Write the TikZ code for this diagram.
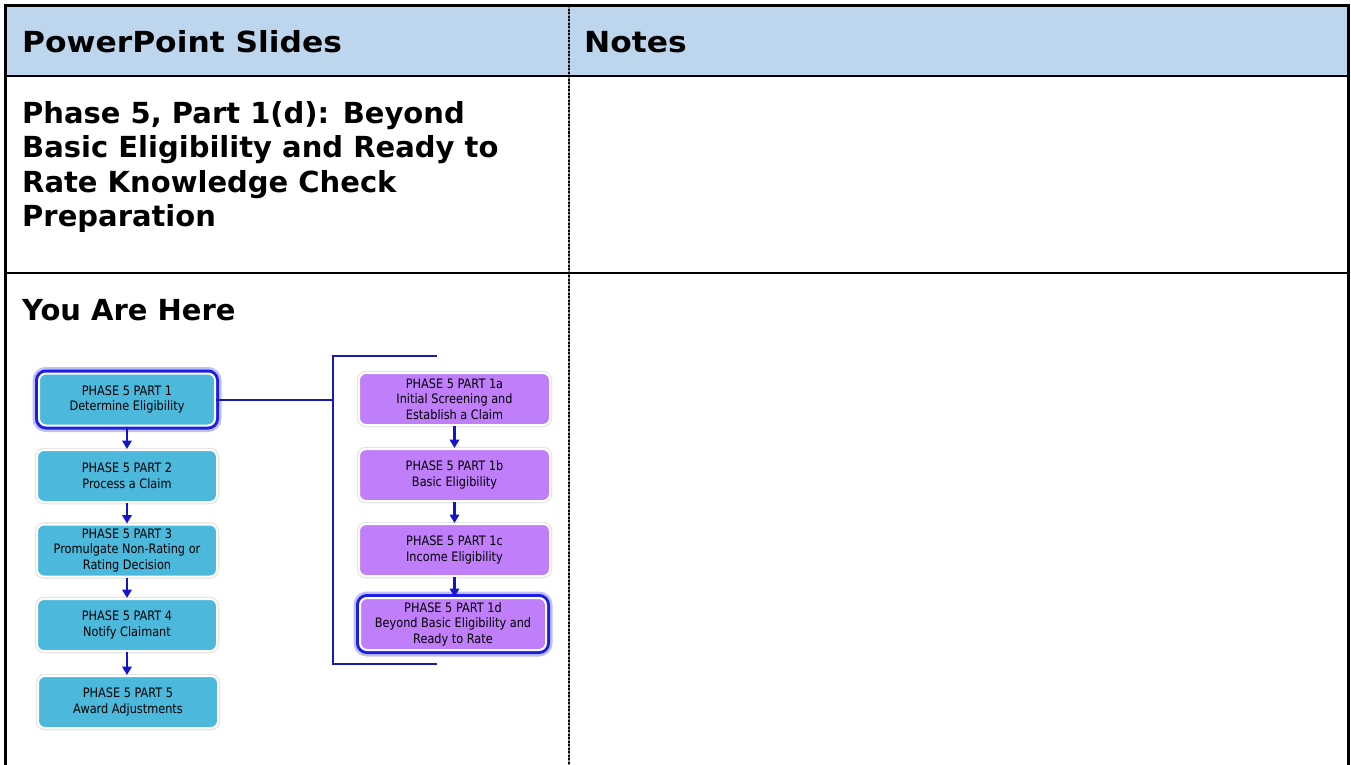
\documentclass[tikz,border=0pt]{standalone}
\usepackage{fontspec}
\setmainfont{DejaVu Sans}
\newfontfamily\hdrfont[FakeStretch=1.08]{DejaVu Sans}
\newfontfamily\boxfont[FakeStretch=0.87]{DejaVu Sans}
\usetikzlibrary{arrows.meta,shadows}
\definecolor{hdrblue}{HTML}{BDD6EE}
\definecolor{cyanbox}{RGB}{75,184,220}
\definecolor{purplebox}{RGB}{192,126,250}
\definecolor{arrowblue}{RGB}{20,20,205}
\definecolor{glowblue}{RGB}{30,30,225}
\definecolor{brackblue}{RGB}{25,25,180}
\begin{document}
\begin{tikzpicture}[x=1pt,y=-1pt,
  tblline/.style={line width=2.6pt, black},
  bigtext/.style={font=\fontsize{29}{34.5}\selectfont\bfseries, inner sep=0pt, align=left},
  hdrtext/.style={font=\hdrfont\fontsize{29}{34.5}\selectfont\bfseries, inner sep=0pt},
  flowbox/.style={rounded corners=7pt, draw=white, line width=2pt, minimum height=52pt,
     inner sep=0pt, align=center, font=\boxfont\fontsize{13}{15.5}\selectfont,
     general shadow={fill=black!18, shadow xshift=1pt, shadow yshift=-1.5pt},
     preaction={draw=black!10, line width=4.5pt}},
  leftbox/.style={flowbox, fill=cyanbox, minimum width=180pt},
  rightbox/.style={flowbox, fill=purplebox, minimum width=191pt},
  glowbox/.style={preaction={draw=glowblue!28, line width=13pt},
                  preaction={draw=glowblue, line width=8pt}},
  flowarrow/.style={draw=arrowblue, line width=2.6pt, -{Triangle[width=9.5pt,length=8.5pt]}},
  bracketline/.style={draw=brackblue, line width=2pt}
]
\useasboundingbox (0,0) rectangle (1351,765);
% table
\fill[hdrblue] (5,5) rectangle (1349,76);
\draw[tblline] (5.5,765) -- (5.5,5.5) -- (1348.5,5.5) -- (1348.5,765);
\draw[tblline] (5.5,76) -- (1348.5,76);
\draw[tblline] (5.5,273) -- (1348.5,273);
\draw[line width=2.6pt, black!45] (569,5.5) -- (569,765);
\draw[line width=2.6pt, black, dash pattern=on 2pt off 1.5pt] (569,5.5) -- (569,765);
% texts
\node[hdrtext, anchor=base west] (hdrA) at (22,52.5) {PowerPoint Slides};
\node[hdrtext, anchor=base west] (hdrB) at (584,52.5) {Notes};
\node[bigtext, anchor=north west] (title) at (22,101) {Phase 5, Part 1(d): Beyond\\Basic Eligibility and Ready to\\Rate Knowledge Check\\Preparation};
\node[bigtext, anchor=base west] (here) at (22,320) {You Are Here};
% left flow
\node[leftbox, glowbox, minimum width=176pt] (p1) at (127,399.5) {PHASE 5 PART 1\\Determine Eligibility};
\node[leftbox] (p2) at (127,476) {PHASE 5 PART 2\\Process a Claim};
\node[leftbox] (p3) at (127,550.5) {PHASE 5 PART 3\\Promulgate Non-Rating or\\Rating Decision};
\node[leftbox] (p4) at (127,625) {PHASE 5 PART 4\\Notify Claimant};
\node[leftbox] (p5) at (128,702) {PHASE 5 PART 5\\Award Adjustments};
\draw[flowarrow] (p1.south) -- (p1.south |- p2.north);
\draw[flowarrow] (p2.south) -- (p2.south |- p3.north);
\draw[flowarrow] (p3.south) -- (p3.south |- p4.north);
\draw[flowarrow] (p4.south) -- (p4.south |- p5.north);
% right flow
\node[rightbox] (q1) at (454.5,399) {PHASE 5 PART 1a\\Initial Screening and\\Establish a Claim};
\node[rightbox] (q2) at (454.5,475) {PHASE 5 PART 1b\\Basic Eligibility};
\node[rightbox] (q3) at (454.5,550) {PHASE 5 PART 1c\\Income Eligibility};
\node[rightbox, glowbox, minimum width=186pt, minimum height=52pt] (q4) at (453,624) {PHASE 5 PART 1d\\Beyond Basic Eligibility and\\Ready to Rate};
\draw[flowarrow] (q1.south) -- (q1.south |- q2.north);
\draw[flowarrow] (q2.south) -- (q2.south |- q3.north);
\draw[flowarrow] (q3.south) -- (q3.south |- q4.north);
% bracket
\coordinate (brtop) at (333,356);
\coordinate (brbot) at (333,664);
\coordinate (brtopend) at (437,356);
\coordinate (brbotend) at (437,664);
\draw[bracketline] (brtopend) -- (brtop) -- (brbot) -- (brbotend);
\draw[bracketline] (p1.east) -- (p1.east -| brtop);
\end{tikzpicture}
\end{document}
